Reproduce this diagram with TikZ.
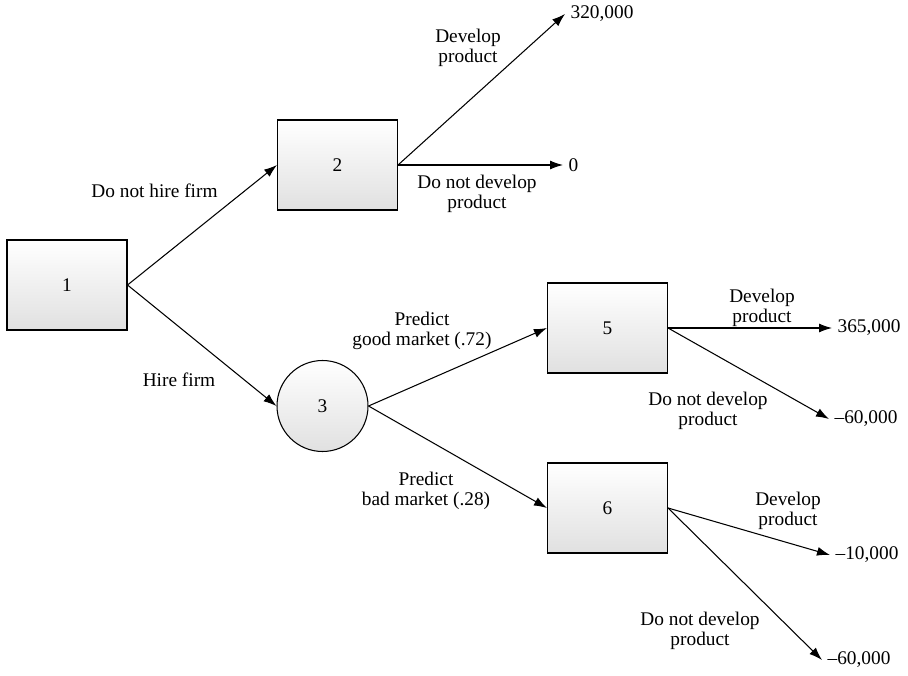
\documentclass[tikz,border=0pt]{standalone}
\usepackage{fontspec}
\setmainfont{Liberation Serif}
\usetikzlibrary{arrows.meta}

\tikzset{
	decision/.style={draw, line width=0.6pt, minimum width=2.4cm, minimum height=1.8cm,
		top color=white, bottom color=black!12},
	chance/.style={draw, circle, line width=0.6pt, minimum size=1.82cm, inner sep=0pt,
		top color=white, bottom color=black!12},
	branch/.style={line width=0.6pt, -{Latex[length=2.6mm, width=1.8mm]}},
	payoff/.style={anchor=west, inner sep=3pt},
	branchlabel/.style={align=center, inner sep=1pt}
}

\begin{document}
\begin{tikzpicture}[font=\fontsize{11}{11.4}\selectfont]
	% Page frame:
	\useasboundingbox (0, 0) rectangle (18.16, 13.5);
	% Decision and chance nodes:
	\node[decision](D1) at (1.34, 7.8){1};
	\node[decision](D2) at (6.75, 10.2){2};
	\node[chance](C3) at (6.45, 5.38){3};
	\node[decision](D5) at (12.15, 6.94){5};
	\node[decision](D6) at (12.15, 3.34){6};
	% Payoffs:
	\node[payoff](P1) at (11.3, 13.22){320,000};
	\node[payoff](P2) at (11.26, 10.2){0};
	\node[payoff](P3) at (16.64, 6.94){365,000};
	\node[payoff](P4) at (16.58, 5.12){\textendash60,000};
	\node[payoff](P5) at (16.6, 2.4){\textendash10,000};
	\node[payoff](P6) at (16.44, 0.3){\textendash60,000};
	% Branches:
	\draw[branch] (D1.east) -- (D2.west);
	\draw[branch] (D1.east) -- (C3.west);
	\draw[branch] (D2.east) -- (P1.west);
	\draw[branch] (D2.east) -- (P2.west);
	\draw[branch] (C3.east) -- (D5.west);
	\draw[branch] (C3.east) -- (D6.west);
	\draw[branch] (D5.east) -- (P3.west);
	\draw[branch] (D5.east) -- (P4.west);
	\draw[branch] (D6.east) -- (P5.west);
	\draw[branch] (D6.east) -- (P6.west);
	% Branch labels:
	\node[branchlabel](L1) at (3.09, 9.68){Do not hire firm};
	\node[branchlabel](L2) at (3.58, 5.9){Hire firm};
	\node[branchlabel](L3) at (9.36, 12.55){Develop\\product};
	\node[branchlabel](L4) at (9.54, 9.63){Do not develop\\product};
	\node[branchlabel](L5) at (8.44, 6.89){Predict\\good market (.72)};
	\node[branchlabel](L6) at (8.52, 3.69){Predict\\bad market (.28)};
	\node[branchlabel](L7) at (15.24, 7.35){Develop\\product};
	\node[branchlabel](L8) at (14.16, 5.29){Do not develop\\product};
	\node[branchlabel](L9) at (15.76, 3.29){Develop\\product};
	\node[branchlabel](L10) at (14.0, 0.89){Do not develop\\product};
\end{tikzpicture}
\end{document}
